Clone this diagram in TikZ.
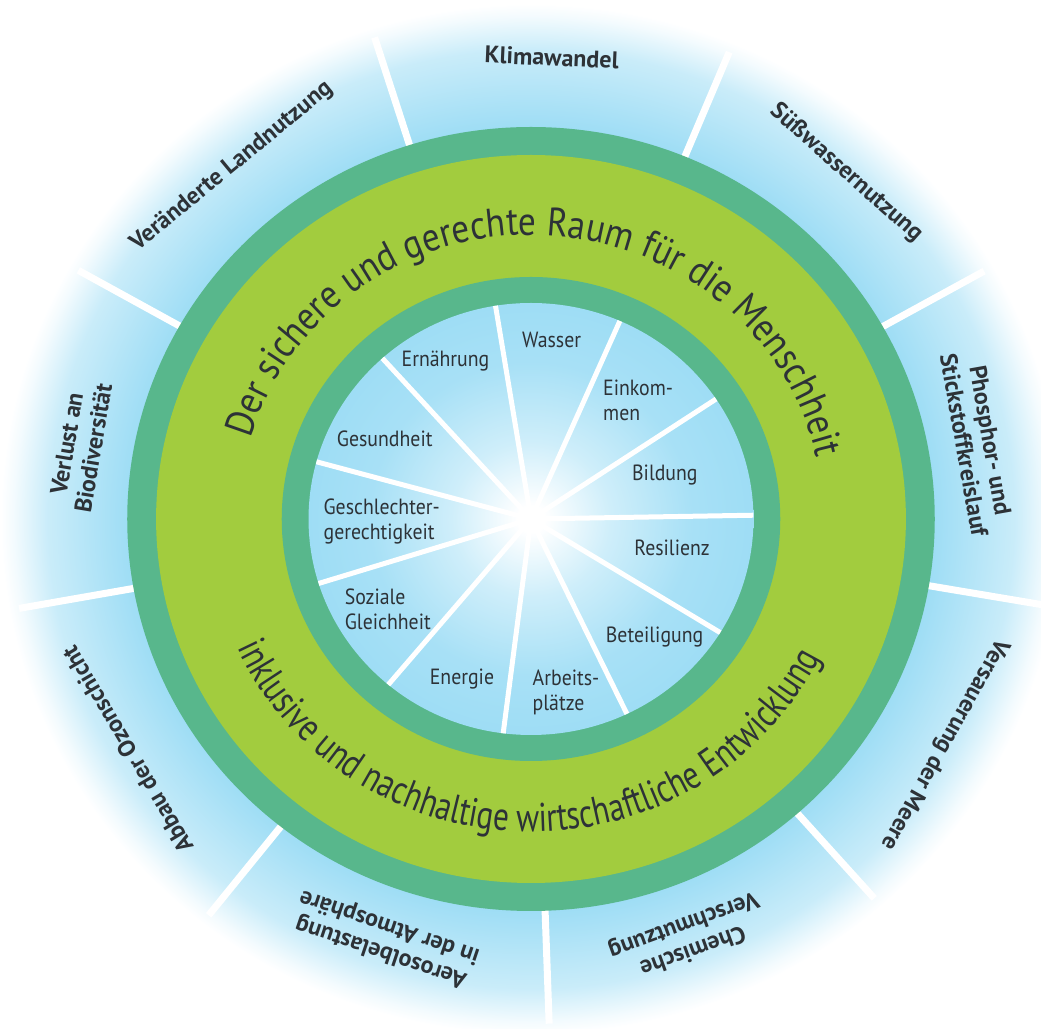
\documentclass[tikz,border=0pt]{standalone}
\usepackage{fontspec}
\setmainfont{PT Sans}
\newfontfamily\labelfont[FakeStretch=0.9]{PT Sans}
\newfontfamily\ringfont[FakeStretch=0.78]{PT Sans}
\newfontfamily\ringwide[FakeStretch=0.88]{PT Sans}
\usetikzlibrary{decorations.text}
\definecolor{sky}{RGB}{158,221,245}
\definecolor{ringdark}{RGB}{88,183,140}
\definecolor{ringlight}{RGB}{162,204,62}
\definecolor{inktext}{RGB}{45,50,55}
\pgfdeclareradialshading{outerglow}{\pgfpoint{0bp}{0bp}}{color(0bp)=(sky); color(19bp)=(sky); color(22.8bp)=(sky!55); color(24.4bp)=(sky!12); color(25bp)=(white); color(50bp)=(white)}
\pgfdeclareradialshading{pieglow}{\pgfpoint{0bp}{0bp}}{color(0bp)=(white); color(1.5bp)=(white); color(9bp)=(sky!50); color(18bp)=(sky!90); color(25bp)=(sky); color(50bp)=(sky)}
\begin{document}
\begin{tikzpicture}[x=0.5pt, y=0.5pt,
  boundary/.style={font=\bfseries\fontsize{12}{13.5}\selectfont, text=inktext, align=center, inner sep=1pt},
  goal/.style={font=\labelfont\fontsize{11}{12.5}\selectfont, text=inktext, align=left, inner sep=1pt},
  spokeout/.style={white, line width=3.5pt},
  spokein/.style={white, line width=2.5pt}]
  \useasboundingbox (0,0) rectangle (1041,1029);
  \begin{scope}[shift={(531,510)}, xscale=1.03]
    \shade[shading=outerglow] (0,0) circle (515);
    \foreach \a in {107.5,67.6,29.4,-9.8,-48.7,-88,-128.3,-169.8,150.5}
      \draw[spokeout] (\a:385) -- (\a:505);
    \fill[ringdark] (0,0) circle (392);
    \fill[ringlight] (0,0) circle (364);
    \fill[ringdark] (0,0) circle (242);
    \shade[shading=pieglow] (0,0) circle (216);
    \foreach \i in {0,...,10}
      \draw[spokein] (0,0) -- ({1+\i*360/11}:216);
    \node[boundary, rotate=-2.5] (klima) at (87.5:462) {Klimawandel};
    \node[boundary, rotate=-41.5] (suess) at (48.5:462) {Süßwassernutzung};
    \node[boundary, rotate=-80] (phosphor) at (10:440) {Phosphor- und\\Stickstoffkreislauf};
    \node[boundary, rotate=-119.3] (meere) at (-29.3:460) {Versauerung der Meere};
    \node[boundary, rotate=-160] (chemie) at (-70:445) {Chemische\\Verschmutzung};
    \node[boundary, rotate=-198.6] (aerosol) at (-108.6:443) {Aerosolbelastung\\in der Atmosphäre};
    \node[boundary, rotate=-239.5] (ozon) at (-149.5:455) {Abbau der Ozonschicht};
    \node[boundary, rotate=80.5] (biodiv) at (170.5:444) {Verlust an\\Biodiversität};
    \node[boundary, rotate=39.5] (land) at (129.5:457) {Veränderte Landnutzung};
    \path[decorate, decoration={text along path, text align=center, text color=inktext,
      text={|\ringwide\fontsize{20}{24}\selectfont|Der sichere und gerechte Raum für die Menschheit}}]
      (178:284) arc[start angle=178, end angle=-2, radius=284];
    \path[decorate, decoration={text along path, text align=center, text color=inktext,
      text={|\ringfont\fontsize{20}{24}\selectfont|inklusive und nachhaltige wirtschaftliche Entwicklung}}]
      (-180:313) arc[start angle=-180, end angle=-2, radius=313];
    \node[goal] (wasser) at (20,179) {Wasser};
    \node[goal] (einkommen) at (104,119) {Einkom-\\men};
    \node[goal] (bildung) at (130,44) {Bildung};
    \node[goal] (resilienz) at (137,-29) {Resilienz};
    \node[goal] (beteiligung) at (120,-118) {Beteiligung};
    \node[goal] (arbeit) at (34,-173) {Arbeits-\\plätze};
    \node[goal] (energie) at (-67,-160) {Energie};
    \node[goal] (sozial) at (-139,-90) {Soziale\\Gleichheit};
    \node[goal] (gender) at (-145,-3) {Geschlechter-\\gerechtigkeit};
    \node[goal] (gesund) at (-142,80) {Gesundheit};
    \node[goal] (ernaehrung) at (-83,158) {Ernährung};
  \end{scope}
\end{tikzpicture}
\end{document}
